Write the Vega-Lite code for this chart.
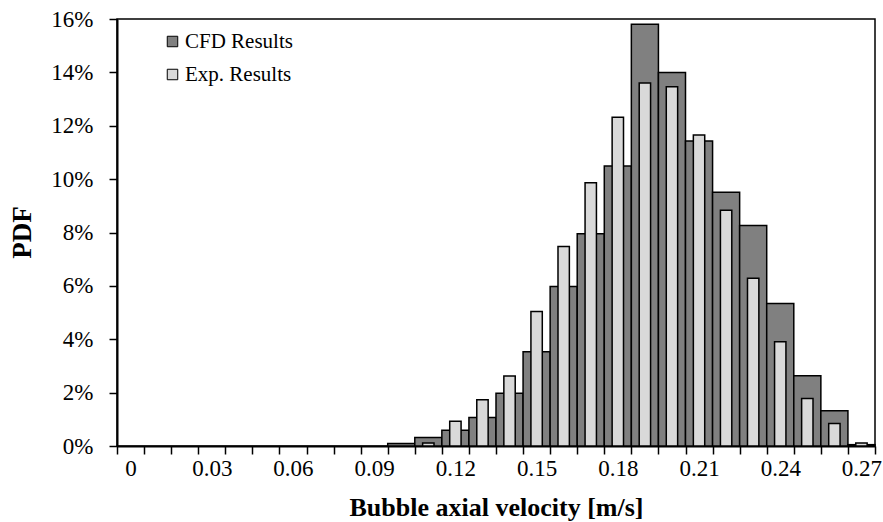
{
  "$schema": "https://vega.github.io/schema/vega-lite/v6.json",
  "width": 758,
  "height": 427,
  "autosize": {"type": "none"},
  "padding": {"left": 117, "top": 19, "right": 8, "bottom": 76},
  "background": "white",
  "config": {
    "font": "Liberation Serif",
    "view": {"stroke": "#000", "strokeWidth": 1.5},
    "axis": {"grid": false, "domainColor": "#000", "domainWidth": 2, "tickColor": "#000", "tickWidth": 1.5, "tickSize": 8, "labelColor": "#000", "labelFont": "Liberation Serif", "labelFontSize": 23, "titleColor": "#000", "titleFont": "Liberation Serif"}
  },
  "datasets": {
    "cfd": [
      {"v": 0.1, "series": "CFD Results", "pdf": 0.0009},
      {"v": 0.11, "series": "CFD Results", "pdf": 0.0032},
      {"v": 0.12, "series": "CFD Results", "pdf": 0.0059},
      {"v": 0.13, "series": "CFD Results", "pdf": 0.0107},
      {"v": 0.14, "series": "CFD Results", "pdf": 0.0198},
      {"v": 0.15, "series": "CFD Results", "pdf": 0.0353},
      {"v": 0.16, "series": "CFD Results", "pdf": 0.0598},
      {"v": 0.17, "series": "CFD Results", "pdf": 0.0795},
      {"v": 0.18, "series": "CFD Results", "pdf": 0.1049},
      {"v": 0.19, "series": "CFD Results", "pdf": 0.158},
      {"v": 0.2, "series": "CFD Results", "pdf": 0.14},
      {"v": 0.21, "series": "CFD Results", "pdf": 0.1143},
      {"v": 0.22, "series": "CFD Results", "pdf": 0.0951},
      {"v": 0.23, "series": "CFD Results", "pdf": 0.0826},
      {"v": 0.24, "series": "CFD Results", "pdf": 0.0534},
      {"v": 0.25, "series": "CFD Results", "pdf": 0.0263},
      {"v": 0.26, "series": "CFD Results", "pdf": 0.0132},
      {"v": 0.27, "series": "CFD Results", "pdf": 0.0005}
    ],
    "exp": [
      {"v": 0.11, "series": "Exp. Results", "pdf": 0.0011},
      {"v": 0.12, "series": "Exp. Results", "pdf": 0.0093},
      {"v": 0.13, "series": "Exp. Results", "pdf": 0.0173},
      {"v": 0.14, "series": "Exp. Results", "pdf": 0.0262},
      {"v": 0.15, "series": "Exp. Results", "pdf": 0.0504},
      {"v": 0.16, "series": "Exp. Results", "pdf": 0.0748},
      {"v": 0.17, "series": "Exp. Results", "pdf": 0.0986},
      {"v": 0.18, "series": "Exp. Results", "pdf": 0.1232},
      {"v": 0.19, "series": "Exp. Results", "pdf": 0.136},
      {"v": 0.2, "series": "Exp. Results", "pdf": 0.1346},
      {"v": 0.21, "series": "Exp. Results", "pdf": 0.1165},
      {"v": 0.22, "series": "Exp. Results", "pdf": 0.0883},
      {"v": 0.23, "series": "Exp. Results", "pdf": 0.0629},
      {"v": 0.24, "series": "Exp. Results", "pdf": 0.0391},
      {"v": 0.25, "series": "Exp. Results", "pdf": 0.0178},
      {"v": 0.26, "series": "Exp. Results", "pdf": 0.0084},
      {"v": 0.27, "series": "Exp. Results", "pdf": 0.0011}
    ]
  },
  "encoding": {
    "x": {
      "field": "v",
      "type": "ordinal",
      "scale": {"domain": [0, 0.01, 0.02, 0.03, 0.04, 0.05, 0.06, 0.07, 0.08, 0.09, 0.1, 0.11, 0.12, 0.13, 0.14, 0.15, 0.16, 0.17, 0.18, 0.19, 0.2, 0.21, 0.22, 0.23, 0.24, 0.25, 0.26, 0.27], "paddingInner": 0, "paddingOuter": 0},
      "axis": {
        "title": "Bubble axial velocity [m/s]",
        "titleFontSize": 26,
        "titleFontWeight": "bold",
        "titleBaseline": "alphabetic",
        "titleY": 69,
        "labelAngle": 0,
        "labelPadding": 3,
        "tickBand": "extent",
        "labelExpr": "round(datum.value*100) % 3 == 0 ? datum.label : ''"
      }
    },
    "y": {
      "field": "pdf",
      "type": "quantitative",
      "scale": {"domain": [0, 0.16], "nice": false},
      "axis": {
        "title": "PDF",
        "titleFontSize": 27,
        "titleFontWeight": "bold",
        "titleAngle": -90,
        "titleAlign": "center",
        "titleBaseline": "middle",
        "titleX": -95,
        "titleY": 213,
        "values": [0, 0.02, 0.04, 0.06, 0.08, 0.1, 0.12, 0.14, 0.16],
        "format": ".0%",
        "labelPadding": 16
      }
    },
    "color": {
      "field": "series",
      "type": "nominal",
      "scale": {"domain": ["CFD Results", "Exp. Results"], "range": ["#808080", "#d9d9d9"]},
      "legend": {
        "title": null,
        "orient": "none",
        "legendX": 45,
        "legendY": 12,
        "padding": 0,
        "symbolType": "square",
        "symbolSize": 110,
        "symbolStrokeColor": "#000",
        "symbolStrokeWidth": 1,
        "symbolOpacity": 1,
        "labelFont": "Liberation Serif",
        "labelFontSize": 21,
        "labelColor": "#000",
        "labelOffset": 2,
        "rowPadding": 11
      }
    }
  },
  "layer": [
    {
      "data": {"name": "cfd"},
      "mark": {"type": "bar", "stroke": "#000", "strokeWidth": 1.5, "opacity": 1}
    },
    {
      "data": {"name": "exp"},
      "mark": {"type": "bar", "stroke": "#000", "strokeWidth": 1.5, "opacity": 1, "width": {"band": 0.42}}
    }
  ]
}
